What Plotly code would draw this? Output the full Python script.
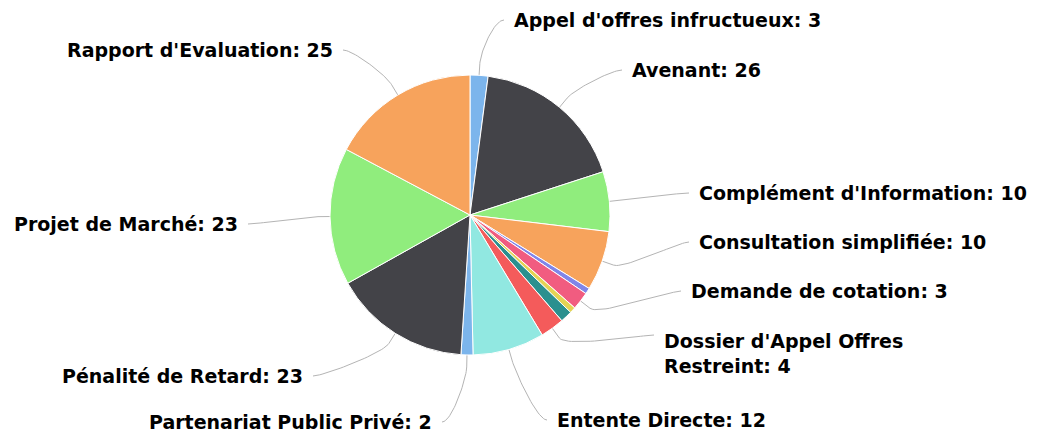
import numpy as np
import plotly.graph_objects as go

# ---- data ----
categories = [
    "Appel d'offres infructueux", "Avenant", "Complément d'Information",
    "Consultation simplifiée", "Demande d'Avis", "Demande de cotation",
    "Demande de prorogation", "Dossier d'Appel Offres Ouvert",
    "Dossier d'Appel Offres Restreint", "Entente Directe",
    "Partenariat Public Privé", "Pénalité de Retard", "Projet de Marché",
    "Rapport d'Evaluation",
]
values = [3, 26, 10, 10, 1, 3, 1, 2, 4, 12, 2, 23, 23, 25]
colors = ["#7cb5ec", "#434348", "#90ed7d", "#f7a35c", "#8085e9", "#f15c80",
          "#e4d354", "#2b908f", "#f45b5b", "#91e8e1", "#7cb5ec", "#434348",
          "#90ed7d", "#f7a35c"]
# which slices show a label (others hidden as overlapping in the original)
shown = [True, True, True, True, False, True, False, False, True, True,
         True, True, True, True]
label_text = {
    "Dossier d'Appel Offres Restreint": "Dossier d'Appel Offres<br>Restreint",
}

# ---- layout (page pixels; the page body has an 8px margin) ----
OFF = 8
W, H = 1042 - OFF, 436 - OFF
CX, CY, R = 470 - OFF, 215 - OFF, 140
# label anchor positions in page pixels (x of text edge nearest pie, y centre)
label_pos = {
    "Appel d'offres infructueux": (512, 20),
    "Avenant": (630, 70),
    "Complément d'Information": (697, 193),
    "Consultation simplifiée": (697, 242),
    "Demande de cotation": (689, 291),
    "Dossier d'Appel Offres Restreint": (662, 353),
    "Entente Directe": (555, 420),
    "Partenariat Public Privé": (434, 422),
    "Pénalité de Retard": (305, 376),
    "Projet de Marché": (240, 224),
    "Rapport d'Evaluation": (335, 50),
}
conn_y = {"Dossier d'Appel Offres Restreint": 335}

fig = go.Figure()
fig.add_trace(go.Pie(
    labels=categories, values=values, sort=False, direction="clockwise",
    rotation=0, marker=dict(colors=colors, line=dict(color="#ffffff", width=1)),
    textinfo="none", showlegend=False, hole=0,
    domain=dict(x=[(CX - R) / W, (CX + R) / W], y=[1 - (CY + R) / H, 1 - (CY - R) / H]),
    hovertemplate="%{label}: %{value}<extra></extra>",
))

total = sum(values)
cum = np.cumsum([0] + values)
annotations = []
for i, (cat, v) in enumerate(zip(categories, values)):
    if not shown[i]:
        continue
    mid = np.deg2rad((cum[i] + v / 2) / total * 360)
    ex, ey = CX + R * np.sin(mid), CY - R * np.cos(mid)
    bx, by = CX + (R + 12) * np.sin(mid), CY - (R + 12) * np.cos(mid)
    lx, ly = label_pos[cat]
    lx, ly = lx - OFF, ly - OFF
    right = lx > CX
    cy_ = conn_y.get(cat, ly + OFF) - OFF
    sx = lx - 8 if right else lx + 8
    p0 = np.array([sx, cy_])
    c1 = np.array([sx - 10 if right else sx + 10, cy_])
    c2 = np.array([2 * bx - ex, 2 * by - ey])
    p3 = np.array([bx, by])
    t = np.linspace(0, 1, 30)[:, None]
    curve = ((1 - t) ** 3) * p0 + 3 * ((1 - t) ** 2) * t * c1 + 3 * (1 - t) * t ** 2 * c2 + t ** 3 * p3
    xs = list(curve[:, 0]) + [ex]
    ys = list(curve[:, 1]) + [ey]
    fig.add_trace(go.Scatter(x=xs, y=ys, mode="lines", xaxis="x", yaxis="y",
                             line=dict(color="#b4b4b4", width=1), hoverinfo="skip",
                             showlegend=False))
    txt = label_text.get(cat, cat) + ": " + str(v)
    annotations.append(dict(
        x=lx, y=ly, xref="x", yref="y", text="<b>" + txt + "</b>",
        showarrow=False, xanchor="left" if right else "right", yanchor="middle",
        align="left",
        font=dict(family="DejaVu Sans", size=19, color="#000000"),
    ))

fig.update_layout(
    width=W, height=H, margin=dict(l=0, r=0, t=0, b=0),
    paper_bgcolor="#ffffff", plot_bgcolor="rgba(0,0,0,0)",
    xaxis=dict(range=[0, W], visible=False, fixedrange=True),
    yaxis=dict(range=[H, 0], visible=False, fixedrange=True),
    annotations=annotations,
)
fig.write_html("out.html")
